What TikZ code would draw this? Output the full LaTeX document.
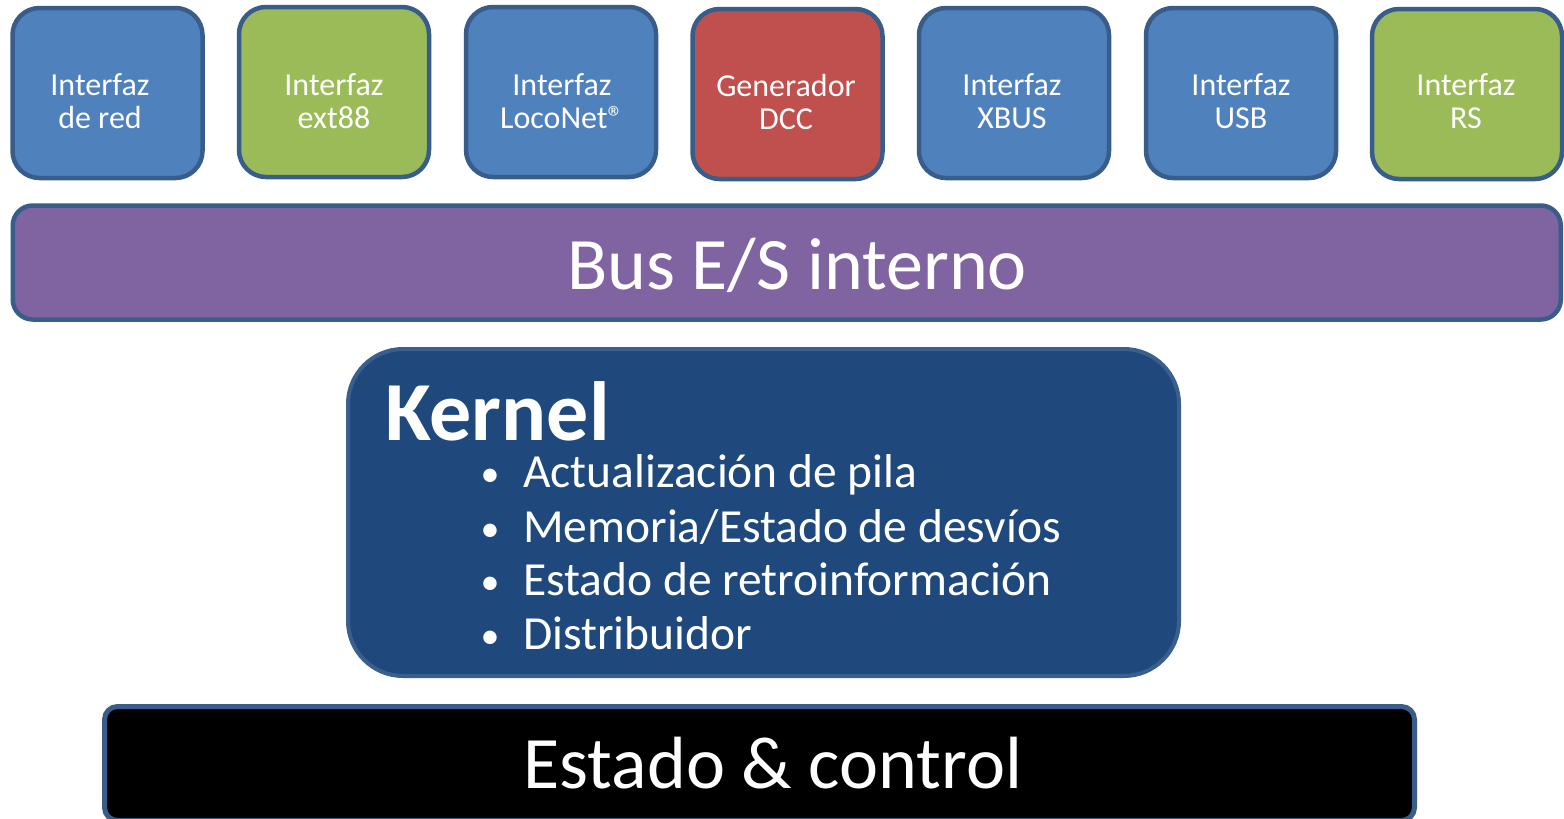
\documentclass[tikz,border=0pt]{standalone}
\usepackage{fontspec}
\setmainfont{Carlito}
\definecolor{bord}{HTML}{385D8A}
\definecolor{fblue}{HTML}{4F81BD}
\definecolor{fgreen}{HTML}{9BBB59}
\definecolor{fred}{HTML}{C0504D}
\definecolor{fpurple}{HTML}{8064A2}
\definecolor{fkernel}{HTML}{1F497D}
\definecolor{kbord}{HTML}{3A5F8E}
\begin{document}
\begin{tikzpicture}[x=1pt,y=-1pt,
  ibox/.style={draw=bord, line width=4.5pt, rounded corners=27pt, minimum width=190pt, minimum height=170pt, inner sep=0pt},
  itext/.style={text=white, font=\fontsize{32}{33}\selectfont, align=center, anchor=base, inner sep=0pt},
  bigtext/.style={text=white, font=\fontsize{74}{80}\selectfont, anchor=base, inner sep=0pt},
  bullettext/.style={text=white, font=\fontsize{47.5}{54}\selectfont, anchor=base west, inner sep=0pt},
  bulletmark/.style={text=white, font=\fontsize{38}{54}\selectfont, anchor=base, inner sep=0pt}]
\useasboundingbox (0,0) rectangle (1564,819);
\fill[white] (0,0) rectangle (1564,819);
% interface boxes
\node[ibox, fill=fblue]  (b1) at (107.5,93) {};
\node[ibox, fill=fgreen] (b2) at (334,92) {};
\node[ibox, fill=fblue]  (b3) at (561,92) {};
\node[ibox, fill=fred]   (b4) at (787.5,94) {};
\node[ibox, fill=fblue]  (b5) at (1014,93) {};
\node[ibox, fill=fblue]  (b6) at (1241,93) {};
\node[ibox, fill=fgreen] (b7) at (1467,94) {};
\node[itext] (t1) at (100,128) {Interfaz\\de red};
\node[itext] (t2) at (334,128) {Interfaz\\ext88};
\node[itext] (t3) at (562,128) {Interfaz\\LocoNet®};
\node[itext] (t4) at (786,129) {Generador\\DCC};
\node[itext] (t5) at (1012,128) {Interfaz\\XBUS};
\node[itext] (t6) at (1241,128) {Interfaz\\USB};
\node[itext] (t7) at (1466,128) {Interfaz\\RS};
% bus
\node[draw=bord, line width=4.5pt, fill=fpurple, rounded corners=20pt, minimum width=1548pt, minimum height=114pt, inner sep=0pt] (bus) at (786.75,262.5) {};
\node[bigtext] (bust) at (797,289) {Bus E/S interno};
% kernel
\node[draw=kbord, line width=4pt, fill=fkernel, rounded corners=55pt, minimum width=831pt, minimum height=327pt, inner sep=0pt] (kern) at (763.5,512.5) {};
\node[text=white, font=\fontsize{84}{90}\selectfont\bfseries, anchor=base west, inner sep=0pt] (kt) at (385,440) {Kernel};
\node[bulletmark] (k1b) at (490,486) {•};
\node[bullettext] (k1) at (523,487) {Actualización de pila};
\node[bulletmark] (k2b) at (490,541) {•};
\node[bullettext] (k2) at (523,542) {Memoria/Estado de desvíos};
\node[bulletmark] (k3b) at (490,594) {•};
\node[bullettext] (k3) at (523,595) {Estado de retroinformación};
\node[bulletmark] (k4b) at (490,648) {•};
\node[bullettext] (k4) at (523,649) {Distribuidor};
% estado & control
\node[draw=bord, line width=5pt, fill=black, rounded corners=13pt, minimum width=1310pt, minimum height=114pt, inner sep=0pt] (est) at (759.5,763.5) {};
\node[bigtext] (estt) at (773,788) {Estado \& control};
\end{tikzpicture}
\end{document}
